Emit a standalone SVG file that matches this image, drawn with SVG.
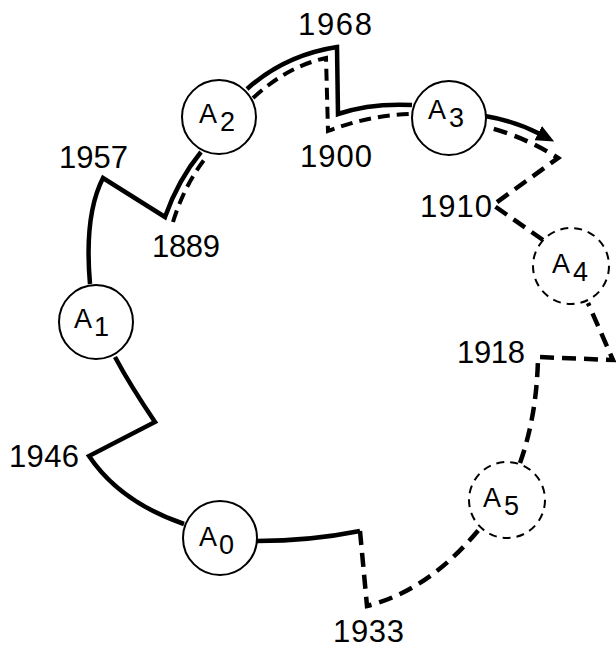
<svg xmlns="http://www.w3.org/2000/svg" width="616" height="650" viewBox="0 0 616 650">
<style>
.solid{fill:none;stroke:#000;stroke-width:4.5;stroke-linejoin:miter;stroke-linecap:butt}
.dash{fill:none;stroke:#000;stroke-width:4.5;stroke-dasharray:14 8;stroke-linejoin:miter}
.dashthin{fill:none;stroke:#000;stroke-width:4;stroke-dasharray:12 7;stroke-linejoin:miter}
.node{fill:#fff;stroke:#000;stroke-width:2}
.dnode{fill:#fff;stroke:#000;stroke-width:2;stroke-dasharray:8 6}
.yr{font-size:31px;fill:#000}
.lbl{font-size:27px;fill:#000}
</style>
<defs>
<marker id="arr" markerUnits="userSpaceOnUse" markerWidth="18" markerHeight="16" refX="2" refY="8" orient="auto">
<path d="M0,0 L18,8 L0,16 z" fill="#000"/>
</marker>
</defs>
<rect width="616" height="650" fill="#fff"/>
<g id="connectors">
<path class="solid" d="M257,541 Q310,541 360,531"/>
<path class="dash" d="M360,531 L367,606 Q430,590 481,527"/>
<path class="dash" d="M520,463 Q537,415 538,357 L613,360 L588,303"/>
<path class="dash" d="M543,240 L493,205 L558,158 Q525,137 487,127"/>
<path class="solid" d="M485,116 Q515,121 540,134" marker-end="url(#arr)"/>
<path class="solid" d="M90,284 Q84,215 103,178 L165,217 Q178,180 201,152"/>
<path class="dashthin" d="M173,222 Q185,183 208,155"/>
<path class="solid" d="M247,89 Q285,55 337,47 L338,114 Q370,103 412,105"/>
<path class="dashthin" d="M253,98 Q288,66 326,58 L328,131 Q370,115 412,114"/>
<path class="solid" d="M115,357 Q130,385 155,422 L89,456 Q120,502 184,524"/>
</g>
<g font-family="'Liberation Sans', Arimo, Helvetica, Arial, sans-serif">
<g id="A0"><circle class="node" cx="220" cy="538" r="37"/><text class="lbl" x="199" y="546">A</text><text class="lbl" x="219" y="554">0</text></g>
<g id="A1"><circle class="node" cx="96" cy="322" r="37"/><text class="lbl" x="74" y="328">A</text><text class="lbl" x="94" y="336">1</text></g>
<g id="A2"><circle class="node" cx="219" cy="117" r="37"/><text class="lbl" x="199" y="123">A</text><text class="lbl" x="220" y="131">2</text></g>
<g id="A3"><circle class="node" cx="449" cy="118" r="37"/><text class="lbl" x="428" y="119">A</text><text class="lbl" x="449" y="127">3</text></g>
<g id="A4"><circle class="dnode" cx="571" cy="266" r="38"/><text class="lbl" x="552" y="273">A</text><text class="lbl" x="573" y="281">4</text></g>
<g id="A5"><circle class="dnode" cx="507" cy="500" r="38"/><text class="lbl" x="483" y="507">A</text><text class="lbl" x="504" y="515">5</text></g>
<g id="years">
<text class="yr" x="298" y="35" textLength="74" lengthAdjust="spacing">1968</text>
<text class="yr" x="300" y="167" textLength="72" lengthAdjust="spacing">1900</text>
<text class="yr" x="59" y="168" textLength="69" lengthAdjust="spacing">1957</text>
<text class="yr" x="152" y="257" textLength="68" lengthAdjust="spacing">1889</text>
<text class="yr" x="420" y="217" textLength="72" lengthAdjust="spacing">1910</text>
<text class="yr" x="457" y="363" textLength="68" lengthAdjust="spacing">1918</text>
<text class="yr" x="9" y="467" textLength="70" lengthAdjust="spacing">1946</text>
<text class="yr" x="333" y="642" textLength="71" lengthAdjust="spacing">1933</text>
</g>
</g>
</svg>
